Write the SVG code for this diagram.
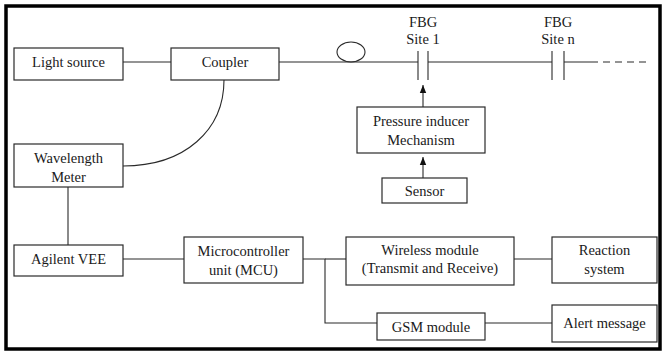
<svg xmlns="http://www.w3.org/2000/svg" width="662" height="352" viewBox="0 0 662 352">
<defs>
<style>
.box{fill:#fff;stroke:#2a2a2a;stroke-width:1.2}
.ln{fill:none;stroke:#2a2a2a;stroke-width:1.1}
.t{font-family:'Liberation Serif','DejaVu Serif',serif;font-size:14.5px;fill:#1a1a1a;text-anchor:middle}
</style>
<marker id="ah" viewBox="0 0 8 8" refX="8" refY="4" markerWidth="8" markerHeight="8" markerUnits="userSpaceOnUse" orient="auto">
<path d="M0,0.8 L8,4 L0,7.2 Z" fill="#111"/>
</marker>
</defs>
<rect x="0" y="0" width="662" height="352" fill="#fff"/>
<rect x="6" y="6" width="654" height="343" fill="none" stroke="#000" stroke-width="3.5"/>
<g id="connectors">
<line class="ln" x1="123" y1="62" x2="171" y2="62"/>
<line class="ln" x1="279" y1="62" x2="418" y2="62"/>
<line class="ln" x1="428" y1="62" x2="552" y2="62"/>
<line class="ln" x1="564" y1="62" x2="598" y2="62"/>
<line class="ln" x1="603" y1="62" x2="648" y2="62" stroke-dasharray="7 5"/>
<ellipse class="ln" cx="351" cy="52" rx="14" ry="10"/>
<line class="ln" x1="418" y1="51" x2="418" y2="80"/>
<line class="ln" x1="428" y1="51" x2="428" y2="80"/>
<line class="ln" x1="552" y1="51" x2="552" y2="80"/>
<line class="ln" x1="564" y1="51" x2="564" y2="80"/>
<line class="ln" x1="423" y1="107" x2="423" y2="85" marker-end="url(#ah)"/>
<line class="ln" x1="423" y1="178" x2="423" y2="157" marker-end="url(#ah)"/>
<path class="ln" d="M224,80 C224,130 185,166 123,166"/>
<line class="ln" x1="68" y1="187" x2="68" y2="245"/>
<line class="ln" x1="123" y1="259" x2="184" y2="259"/>
<polyline class="ln" points="303,259 325,259 325,323 377,323"/>
<line class="ln" x1="325" y1="259" x2="346" y2="259"/>
<line class="ln" x1="514" y1="259" x2="552" y2="259"/>
<line class="ln" x1="485" y1="323" x2="552" y2="323"/>
</g>
<g id="fbg1"><text class="t" x="423" y="27">FBG</text><text class="t" x="423" y="44">Site 1</text></g>
<g id="fbgn"><text class="t" x="558" y="27">FBG</text><text class="t" x="558" y="44">Site n</text></g>
<g id="light"><rect class="box" x="14" y="48" width="109" height="32"/><text class="t" x="68.5" y="67">Light source</text></g>
<g id="coupler"><rect class="box" x="171" y="48" width="108" height="32"/><text class="t" x="225" y="67">Coupler</text></g>
<g id="pressure"><rect class="box" x="357" y="107" width="128" height="46"/><text class="t" x="421" y="126">Pressure inducer</text><text class="t" x="421" y="145">Mechanism</text></g>
<g id="sensor"><rect class="box" x="382" y="178" width="85" height="25"/><text class="t" x="424.5" y="196">Sensor</text></g>
<g id="wavelength"><rect class="box" x="14" y="144" width="109" height="43"/><text class="t" x="68.5" y="163">Wavelength</text><text class="t" x="68.5" y="182">Meter</text></g>
<g id="agilent"><rect class="box" x="14" y="245" width="109" height="31"/><text class="t" x="68.5" y="264">Agilent VEE</text></g>
<g id="mcu"><rect class="box" x="184" y="237" width="119" height="46"/><text class="t" x="243.5" y="256">Microcontroller</text><text class="t" x="243.5" y="275">unit (MCU)</text></g>
<g id="wireless"><rect class="box" x="346" y="237" width="168" height="48"/><text class="t" x="430" y="255">Wireless module</text><text class="t" x="430" y="273">(Transmit and Receive)</text></g>
<g id="reaction"><rect class="box" x="552" y="237" width="105" height="46"/><text class="t" x="604.5" y="255">Reaction</text><text class="t" x="604.5" y="274">system</text></g>
<g id="gsm"><rect class="box" x="377" y="313" width="108" height="27"/><text class="t" x="431" y="332">GSM module</text></g>
<g id="alert"><rect class="box" x="552" y="305" width="105" height="37"/><text class="t" x="604.5" y="328">Alert message</text></g>
</svg>
